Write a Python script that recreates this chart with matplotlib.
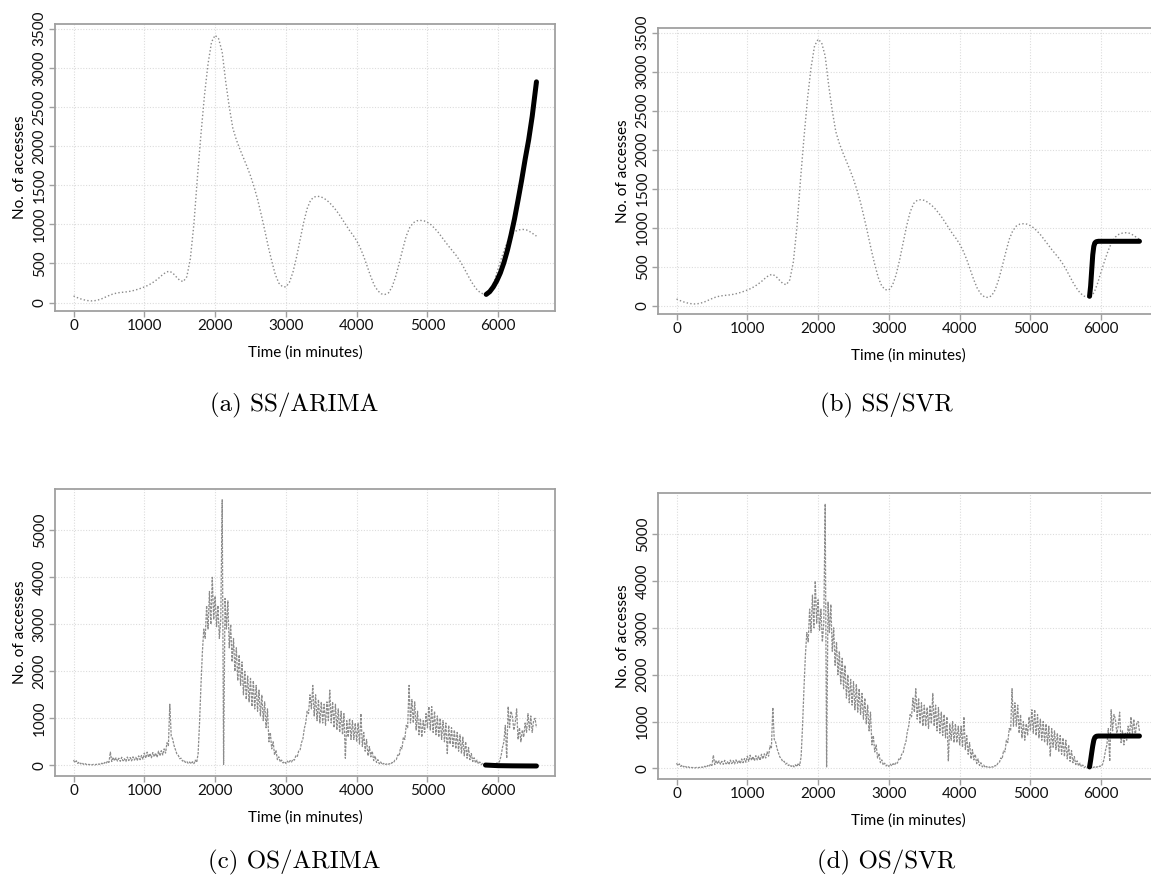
import numpy as np
import matplotlib
matplotlib.use("Agg")
import matplotlib.pyplot as plt

# smoothed access counts (SS), every 50 minutes
ss_time = list(range(0, 6501, 50)) + [6540]
ss_count = [
    85, 65, 48, 35, 26, 22, 25, 35, 50, 70,
    90, 108, 120, 128, 133, 138, 145, 155, 168, 183,
    200, 220, 245, 275, 310, 350, 385, 402, 380, 330,
    285, 268, 330, 560, 1000, 1600, 2150, 2650, 3050, 3330,
    3415, 3370, 3200, 2820, 2500, 2230, 2080, 1960, 1850, 1740,
    1620, 1480, 1320, 1130, 930, 720, 530, 360, 250, 205,
    200, 260, 390, 580, 800, 1020, 1200, 1310, 1350, 1358,
    1350, 1325, 1290, 1245, 1190, 1130, 1060, 990, 920, 860,
    790, 700, 590, 460, 330, 220, 150, 112, 105, 125,
    200, 330, 500, 680, 850, 960, 1020, 1045, 1050, 1045,
    1025, 995, 950, 900, 840, 780, 720, 665, 610, 545,
    470, 385, 300, 225, 165, 125, 108, 112, 170, 290,
    440, 580, 710, 815, 880, 915, 930, 935, 928, 905,
    875, 850,
]

# original access counts (OS), every 20 minutes
os_time = np.arange(0, 6541, 20)
os_count = [
    110, 55, 95, 40, 70, 30, 55, 20, 45, 15,              # 0
    30, 10, 25, 8, 20, 5, 22, 10, 30, 12,                 # 200
    45, 20, 60, 35, 90, 60, 280, 80, 170, 95,             # 400
    160, 90, 150, 85, 170, 95, 140, 80, 175, 100,         # 600
    165, 95, 180, 110, 170, 100, 200, 120, 210, 130,      # 800
    260, 150, 280, 170, 250, 160, 270, 180, 260, 170,     # 1000
    300, 200, 310, 220, 350, 260, 480, 420, 1300, 620,    # 1200
    560, 420, 330, 240, 210, 140, 150, 90, 110, 60,       # 1400
    80, 40, 70, 30, 75, 35, 110, 60, 250, 900,            # 1600
    1700, 2400, 2900, 2700, 3400, 2900, 3700, 3000, 4000, 3100,  # 1800
    3600, 2950, 3400, 2700, 3100, 5650, 20, 3550, 2900, 3500,    # 2000
    2500, 3000, 2200, 2700, 2000, 2500, 1800, 2350, 1700, 2200,  # 2200
    1500, 2000, 1400, 1900, 1350, 1850, 1250, 1800, 1200, 1700,  # 2400
    1150, 1600, 1050, 1500, 950, 1350, 800, 1200, 500, 700,      # 2600
    350, 500, 220, 320, 120, 180, 70, 110, 50, 80,               # 2800
    40, 90, 50, 100, 70, 130, 110, 200, 180, 300,                # 3000
    320, 480, 560, 780, 900, 1150, 1100, 1500, 1200, 1700,       # 3200
    1050, 1500, 950, 1400, 900, 1350, 900, 1300, 850, 1350,      # 3400
    950, 1600, 900, 1350, 800, 1300, 750, 1200, 700, 1150,       # 3600
    650, 1100, 150, 950, 600, 1000, 550, 950, 550, 900,          # 3800
    500, 900, 450, 1100, 400, 700, 300, 550, 200, 400,           # 4000
    180, 300, 100, 200, 60, 120, 30, 70, 15, 40,                 # 4200
    10, 30, 8, 35, 20, 60, 50, 110, 120, 220,                    # 4400
    200, 380, 350, 600, 550, 850, 800, 1700, 900, 1400,          # 4600
    900, 1350, 750, 1150, 650, 1000, 600, 950, 700, 1100,        # 4800
    800, 1250, 750, 1250, 700, 1150, 650, 1050, 600, 1000,       # 5000
    550, 950, 500, 900, 250, 850, 450, 800, 400, 750,            # 5200
    350, 700, 300, 650, 250, 600, 200, 500, 150, 380,            # 5400
    120, 250, 80, 160, 50, 110, 30, 70, 15, 40,                  # 5600
    10, 30, 5, 25, 8, 30, 10, 35, 20, 50,                        # 5800
    40, 90, 200, 380, 500, 850, 150, 1250, 800, 1150,            # 6000
    1050, 750, 900, 1200, 550, 800, 500, 750, 600, 900,          # 6200
    700, 1100, 750, 1050, 700, 950, 1000, 800,                   # 6400
]

# forecasts
arima_ss_time = [5830, 5880, 5930, 5980, 6030, 6080, 6130, 6180,
                 6230, 6280, 6330, 6380, 6430, 6480, 6540]
arima_ss = [105, 140, 200, 280, 380, 510, 670, 860,
            1070, 1310, 1560, 1830, 2080, 2380, 2820]
svr_ss_time = [5835, 5850, 5865, 5880, 5895, 5910, 5930, 5960, 6540]
svr_ss = [120, 250, 450, 650, 760, 805, 820, 825, 825]
arima_os_time = [5820, 6000, 6200, 6400, 6540]
arima_os = [5, -8, -12, -14, -15]
svr_os_time = [5835, 5850, 5865, 5880, 5895, 5910, 5930, 5960, 6540]
svr_os = [30, 170, 330, 480, 600, 660, 685, 690, 690]

captions = ["(a) SS/ARIMA", "(b) SS/SVR", "(c) OS/ARIMA", "(d) OS/SVR"]

plt.rcParams["font.family"] = ["Lato", "DejaVu Sans"]

fig = plt.figure(figsize=(11.51, 8.85), dpi=100)
W, H = 1151.0, 885.0

boxes = [
    [55 / W, 1 - 311 / H, 500 / W, 287 / H],
    [658 / W, 1 - 314 / H, 500 / W, 286 / H],
    [55 / W, 1 - 776 / H, 500 / W, 287 / H],
    [658 / W, 1 - 779 / H, 500 / W, 286 / H],
]

frame_col = "#a0a0a0"
grid_col = "#dcdcdc"


def style_axes(ax, yticks, ylim):
    ax.set_xlim(-262, 6802)
    ax.set_ylim(*ylim)
    ax.set_xticks(range(0, 6001, 1000))
    ax.set_yticks(yticks)
    for sp in ax.spines.values():
        sp.set_color(frame_col)
        sp.set_linewidth(1.3)
    ax.tick_params(colors=frame_col, labelcolor="#111111", length=4,
                   width=1.0, labelsize=11, direction="out")
    ax.tick_params(axis="x", pad=2)
    ax.tick_params(axis="y", labelrotation=90, pad=2)
    for lab in ax.get_yticklabels():
        lab.set_va("center")
    ax.grid(True, color=grid_col, linestyle=(0, (1, 1.5)), linewidth=0.8)
    ax.set_axisbelow(True)
    ax.set_xlabel("Time (in minutes)", fontsize=11, labelpad=9)
    ax.set_ylabel("No. of accesses", fontsize=11, labelpad=4)


forecasts = [
    (arima_ss_time, arima_ss),
    (svr_ss_time, svr_ss),
    (arima_os_time, arima_os),
    (svr_os_time, svr_os),
]

for i, box in enumerate(boxes):
    ax = fig.add_axes(box)
    if i < 2:
        ax.plot(ss_time, ss_count, color="#8a8a8a", lw=1.0,
                linestyle=(0, (1, 1.6)))
        style_axes(ax, range(0, 3501, 500), (-107, 3559))
    else:
        ax.plot(os_time, os_count, color="#8c8c8c", lw=0.9,
                linestyle=(0, (2, 1)))
        style_axes(ax, range(0, 5001, 1000), (-228, 5880))
    ft, fv = forecasts[i]
    ax.plot(ft, fv, color="black", lw=3.6, solid_capstyle="round",
            solid_joinstyle="round")

    cx = 294 if i % 2 == 0 else 886
    cy = 405 if i < 2 else 862
    fig.text(cx / W, 1 - cy / H, captions[i], family="cmr10", fontsize=18,
             ha="center", va="center")

fig.savefig("out.png", dpi=100)
